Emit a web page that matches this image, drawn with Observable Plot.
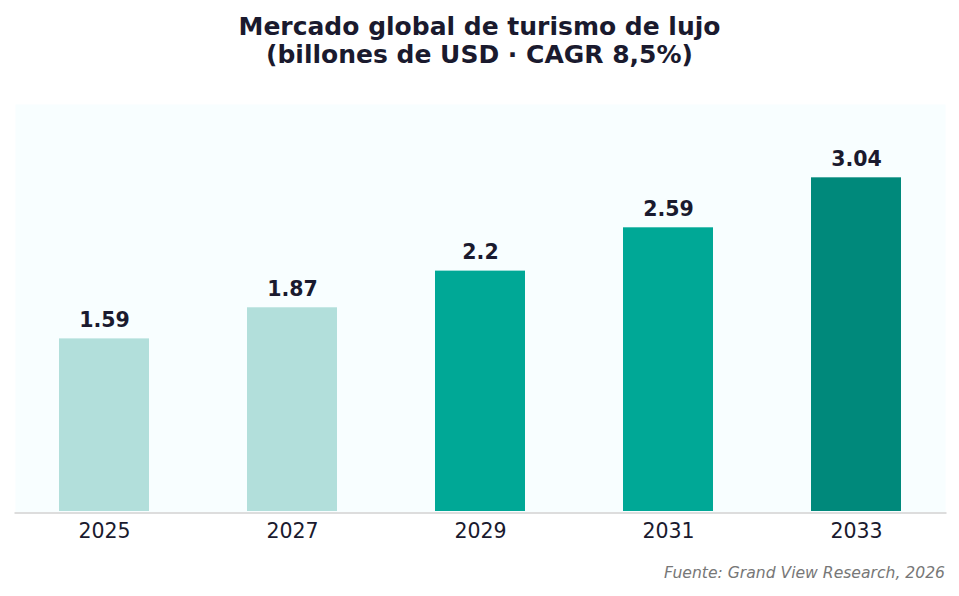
<!DOCTYPE html>
<html>
<head>
<meta charset="utf-8">
<script src="https://cdn.jsdelivr.net/npm/d3@7"></script>
<script src="https://cdn.jsdelivr.net/npm/@observablehq/plot@0.6"></script>
<style>
  body { margin: 0; background: #ffffff; font-family: "DejaVu Sans", sans-serif; width: 959px; }
  #title { text-align: center; font-weight: bold; font-size: 25px; line-height: 28px; color: #1a1a2e; padding-top: 13px; }
  #caption { text-align: right; font-style: italic; font-size: 15.6px; line-height: 18px; color: #777777; padding-right: 14px; }
  svg { display: block; }
</style>
</head>
<body>
<div id="title">Mercado global de turismo de lujo<br>(billones de USD · CAGR 8,5%)</div>
<div id="chart"></div>
<div id="caption">Fuente: Grand View Research, 2026</div>
<script>
const years = ["2025", "2027", "2029", "2031", "2033"];
const values = [1.59, 1.87, 2.2, 2.59, 3.04];
const colors = ["#b2dfdb", "#b2dfdb", "#00a896", "#00a896", "#00897b"];
const labels = ["1.59", "1.87", "2.2", "2.59", "3.04"];

const data = years.map((y, i) => ({year: y, value: values[i], color: colors[i], label: labels[i]}));

const chart = Plot.plot({
  width: 959,
  height: 495,
  marginTop: 35,
  marginBottom: 51,
  marginLeft: 15,
  marginRight: 14,
  style: {fontFamily: "DejaVu Sans, sans-serif", fontSize: "20px", color: "#1a1a2e", background: "transparent"},
  x: {domain: years, padding: 0.52, paddingOuter: 0.23, label: null},
  y: {domain: [0, 3.7], range: [446, 35], axis: null},
  marks: [
    Plot.frame({fill: "#f8feff", stroke: null}),
    Plot.barY(data, {x: "year", y: "value", fill: "color", insetBottom: 4}),
    Plot.frame({anchor: "bottom", stroke: "#dddddd", strokeWidth: 2, dy: -0.5}),
    Plot.text(data, {x: "year", y: "value", text: "label", lineAnchor: "bottom", dy: -12, fontWeight: "bold", fontSize: 20.5, fill: "#1a1a2e"}),
    Plot.axisX({tickSize: 0, tickPadding: 10, fontSize: 20.5, fill: "#1a1a2e", label: null})
  ]
});
document.getElementById("chart").appendChild(chart);
</script>
</body>
</html>
